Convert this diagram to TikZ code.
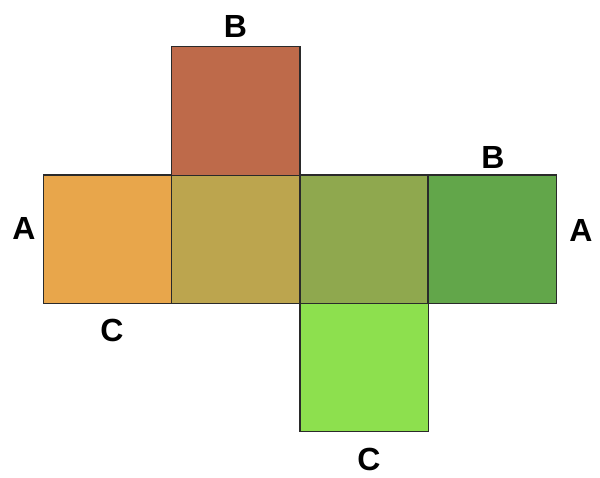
\documentclass[tikz,border=0pt]{standalone}
\usepackage{fontspec}
\setmainfont{Liberation Sans}
\definecolor{cTop}{HTML}{BE6A4A}
\definecolor{cOrange}{HTML}{E8A64B}
\definecolor{cOlive}{HTML}{BCA54E}
\definecolor{cOliveGreen}{HTML}{8FA84E}
\definecolor{cGreen}{HTML}{62A64A}
\definecolor{cLight}{HTML}{8DE04E}
\definecolor{edge}{HTML}{2A2A2A}
\tikzset{
  face/.style={draw=edge, line width=1.1pt, minimum size=128.5pt, inner sep=0pt, outer sep=0pt},
  lbl/.style={font=\bfseries\fontsize{32}{32}\selectfont, inner sep=0pt}
}
\begin{document}
\begin{tikzpicture}[x=1pt,y=-1pt]
\useasboundingbox (0,0) rectangle (600,477);
\node[face, fill=cOrange] (f1) at (107.4,239.25) {};
\node[face, fill=cOlive] (f2) at (235.75,239.25) {};
\node[face, fill=cOliveGreen] (f3) at (364.25,239.25) {};
\node[face, fill=cGreen] (f4) at (492.25,239.25) {};
\node[face, fill=cTop] (ft) at (235.75,111) {};
\node[face, fill=cLight] (fb) at (364.25,367.5) {};
\node[lbl] (bt) at (235.5,26) {B};
\node[lbl] (br) at (493,157.5) {B};
\node[lbl] (al) at (24,228) {A};
\node[lbl] (ar) at (581,230) {A};
\node[lbl] (cl) at (112,330) {C};
\node[lbl] (cb) at (369,459) {C};
\end{tikzpicture}
\end{document}
